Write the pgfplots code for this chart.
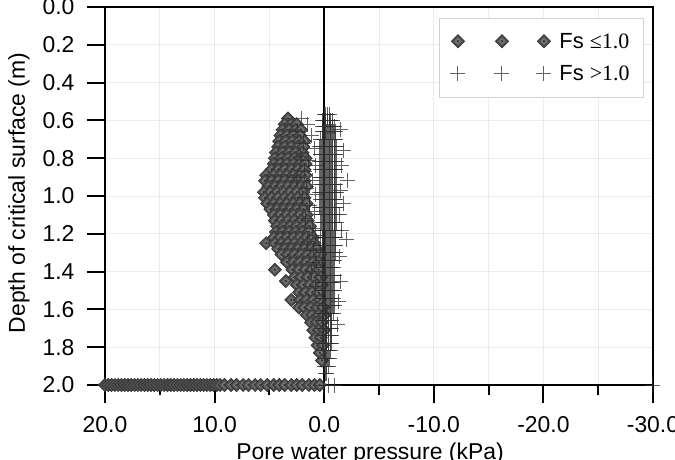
\documentclass[border=0pt]{standalone}
\usepackage{pgfplots}
\pgfplotsset{compat=1.18}
\usepackage{fontspec}
\setmainfont{Liberation Sans}
\newfontfamily\tms{Liberation Serif}

\definecolor{gridgray}{HTML}{EBEBEB}
\definecolor{legendgray}{HTML}{D2D2D2}
\definecolor{diaedge}{HTML}{363636}
\definecolor{diafill}{HTML}{505050}
\definecolor{diainner}{HTML}{747474}
\definecolor{crossgray}{HTML}{2E2E2E}

% diamond with a lighter inner diamond and a dark centre dot
\pgfdeclareplotmark{dotdiamond}{%
  \pgfsetfillcolor{diafill}\pgfsetstrokecolor{diaedge}%
  \pgfpathmoveto{\pgfqpoint{0pt}{\pgfplotmarksize}}%
  \pgfpathlineto{\pgfqpoint{\pgfplotmarksize}{0pt}}%
  \pgfpathlineto{\pgfqpoint{0pt}{-\pgfplotmarksize}}%
  \pgfpathlineto{\pgfqpoint{-\pgfplotmarksize}{0pt}}%
  \pgfpathclose
  \pgfusepathqfillstroke
  \pgfsetfillcolor{diainner}%
  \pgfpathmoveto{\pgfqpoint{0pt}{0.55\pgfplotmarksize}}%
  \pgfpathlineto{\pgfqpoint{0.55\pgfplotmarksize}{0pt}}%
  \pgfpathlineto{\pgfqpoint{0pt}{-0.55\pgfplotmarksize}}%
  \pgfpathlineto{\pgfqpoint{-0.55\pgfplotmarksize}{0pt}}%
  \pgfpathclose
  \pgfusepathqfill
  \pgfsetfillcolor{diaedge}%
  \pgfpathcircle{\pgfpointorigin}{0.22\pgfplotmarksize}%
  \pgfusepathqfill
}

\begin{document}
\begin{tikzpicture}
\begin{axis}[
  scale only axis, width=548bp, height=378bp,
  xmin=-30, xmax=20, ymin=0, ymax=2,
  x dir=reverse, y dir=reverse,
  clip=false,
  axis line style={line width=1.5bp, black},
  xtick={-30,-20,-10,0,10,20},
  xticklabels={-30.0,-20.0,-10.0,0.0,10.0,20.0},
  minor xtick={-25,-15,-5,5,15},
  ytick={0,0.2,0.4,0.6,0.8,1.0,1.2,1.4,1.6,1.8,2.0},
  yticklabels={0.0,0.2,0.4,0.6,0.8,1.0,1.2,1.4,1.6,1.8,2.0},
  xtick pos=left, ytick pos=left,
  tick align=outside,
  major tick length=18bp, minor tick length=10bp,
  every tick/.style={black, line width=2bp},
  xmajorgrids, xminorgrids, ymajorgrids,
  major grid style={gridgray, line width=0.7bp},
  minor grid style={gridgray, line width=0.7bp},
  tick label style={font=\fontsize{23}{26}\selectfont},
  xticklabel style={yshift=-10bp},
  yticklabel style={xshift=-9bp},
  xlabel style={at={(axis description cs:0.4836,-0.198)}, anchor=base,
    font=\fontsize{23}{26}\selectfont},
  ylabel style={at={(axis description cs:-0.157,0.508)}, anchor=center, rotate=0,
    font=\fontsize{23}{26}\selectfont},
  xlabel={Pore water pressure (kPa)},
  ylabel={Depth of critical surface (m)},
  legend style={at={(0.982,0.971)}, anchor=north east, outer sep=0pt,
    draw=legendgray, line width=0.6bp,
    font=\fontsize{22}{25}\selectfont,
    inner xsep=11.5bp, inner ysep=13bp,
    cells={anchor=west}, row sep=12bp, column sep=6bp},
  legend image code/.code={%
    \draw[mark repeat=1,mark phase=1,#1] plot coordinates {(0bp,0bp) (44bp,0bp) (86bp,0bp)};},
]

% factor of safety at or below 1.0
\addplot[only marks, mark=dotdiamond, mark size=6.5bp, mark options={line width=0.8bp}]
coordinates {
(3.3,0.59)
(3.6,0.62)(3.0,0.62)(2.5,0.62)
(3.8,0.65)(3.2,0.65)(2.6,0.65)(2.1,0.65)
(4.0,0.68)(3.4,0.68)(2.8,0.68)(2.2,0.68)
(4.1,0.71)(3.5,0.71)(2.9,0.71)(2.3,0.71)(1.8,0.71)
(4.2,0.74)(3.6,0.74)(3.0,0.74)(2.4,0.74)(1.9,0.74)
(4.4,0.77)(3.8,0.77)(3.2,0.77)(2.6,0.77)(2.0,0.77)
(4.5,0.80)(3.9,0.80)(3.3,0.80)(2.7,0.80)(2.1,0.80)(1.7,0.80)
(4.6,0.83)(4.0,0.83)(3.4,0.83)(2.8,0.83)(2.2,0.83)(1.7,0.83)
(4.8,0.86)(4.2,0.86)(3.6,0.86)(3.0,0.86)(2.4,0.86)(1.8,0.86)
(5.3,0.89)(4.6,0.89)(4.0,0.89)(3.4,0.89)(2.8,0.89)(2.2,0.89)(1.7,0.89)
(5.4,0.92)(4.8,0.92)(4.2,0.92)(3.6,0.92)(3.0,0.92)(2.4,0.92)(1.8,0.92)
(5.1,0.95)(4.5,0.95)(3.9,0.95)(3.3,0.95)(2.7,0.95)(2.1,0.95)(1.6,0.95)
(5.5,0.98)(4.9,0.98)(4.3,0.98)(3.7,0.98)(3.1,0.98)(2.5,0.98)(1.9,0.98)
(5.4,1.01)(4.8,1.01)(4.2,1.01)(3.6,1.01)(3.0,1.01)(2.4,1.01)(1.8,1.01)
(5.2,1.04)(4.6,1.04)(4.0,1.04)(3.4,1.04)(2.8,1.04)(2.2,1.04)(1.6,1.04)
(4.9,1.07)(4.3,1.07)(3.7,1.07)(3.1,1.07)(2.5,1.07)(1.9,1.07)
(4.6,1.10)(4.0,1.10)(3.4,1.10)(2.8,1.10)(2.2,1.10)(1.6,1.10)
(4.5,1.13)(3.9,1.13)(3.3,1.13)(2.7,1.13)(2.1,1.13)(1.5,1.13)
(4.3,1.16)(3.7,1.16)(3.1,1.16)(2.5,1.16)(1.9,1.16)(1.3,1.16)
(4.4,1.19)(3.8,1.19)(3.2,1.19)(2.6,1.19)(2.0,1.19)(1.4,1.19)
(4.6,1.22)(4.0,1.22)(3.4,1.22)(2.8,1.22)(2.2,1.22)(1.6,1.22)(1.0,1.22)
(5.3,1.25)(4.5,1.25)(3.9,1.25)(3.3,1.25)(2.7,1.25)(2.1,1.25)(1.5,1.25)(0.9,1.25)
(4.2,1.28)(3.6,1.28)(3.0,1.28)(2.4,1.28)(1.8,1.28)(1.2,1.28)(0.7,1.28)
(3.9,1.31)(3.3,1.31)(2.7,1.31)(2.1,1.31)(1.5,1.31)(0.9,1.31)(0.4,1.31)
(3.4,1.35)(2.8,1.35)(2.2,1.35)(1.6,1.35)(1.0,1.35)(0.5,1.35)
(4.5,1.39)(2.9,1.39)(2.3,1.39)(1.7,1.39)(1.1,1.39)(0.5,1.39)
(2.7,1.43)(2.1,1.43)(1.5,1.43)(0.9,1.43)(0.3,1.43)
(3.5,1.45)
(2.5,1.47)(1.9,1.47)(1.3,1.47)(0.7,1.47)(0.2,1.47)
(2.3,1.51)(1.7,1.51)(1.1,1.51)(0.5,1.51)
(3.0,1.55)(2.2,1.55)(1.6,1.55)(1.0,1.55)(0.4,1.55)
(2.3,1.59)(1.8,1.59)(1.2,1.59)(0.6,1.59)(0.1,1.59)
(1.6,1.63)(1.1,1.63)(0.5,1.63)(0.0,1.63)
(1.2,1.67)(0.7,1.67)(0.2,1.67)
(1.0,1.71)(0.5,1.71)(0.0,1.71)
(0.8,1.75)(0.3,1.75)
(0.6,1.79)(0.1,1.79)
(0.4,1.83)(0.2,1.87)
(20.0,2.0)(19.7,2.0)(19.4,2.0)(19.1,2.0)(18.8,2.0)(18.5,2.0)(18.2,2.0)
(17.9,2.0)(17.6,2.0)(17.3,2.0)(17.0,2.0)(16.7,2.0)(16.4,2.0)(16.1,2.0)
(15.8,2.0)(15.5,2.0)(15.2,2.0)(14.9,2.0)(14.6,2.0)(14.3,2.0)(14.0,2.0)
(13.7,2.0)(13.4,2.0)(13.1,2.0)(12.8,2.0)(12.5,2.0)(12.2,2.0)(11.9,2.0)
(11.6,2.0)(11.3,2.0)(11.0,2.0)(10.7,2.0)(10.4,2.0)(10.1,2.0)(9.8,2.0)
(9.5,2.0)(9.1,2.0)(8.5,2.0)(8.0,2.0)(7.4,2.0)(6.9,2.0)(6.3,2.0)(5.8,2.0)
(5.2,2.0)(4.6,2.0)(4.1,2.0)(3.6,2.0)(3.0,2.0)(2.5,2.0)(2.0,2.0)(1.4,2.0)
(0.9,2.0)(0.4,2.0)
};
\addlegendentry{Fs {\tms ≤1.0}}

% factor of safety above 1.0
\addplot[only marks, mark=+, mark size=7.5bp,
  mark options={draw=crossgray, draw opacity=0.75, line width=1bp}]
coordinates {
(-0.45,0.57)(-0.3,0.57)(-0.15,0.57)(0.0,0.57)
(-0.75,0.60)(-0.6,0.60)(-0.45,0.60)(-0.3,0.60)(-0.15,0.60)(0.0,0.60)(0.15,0.60)
(-0.9,0.63)(-0.75,0.63)(-0.6,0.63)(-0.45,0.63)(-0.3,0.63)(-0.15,0.63)(0.0,0.63)(0.15,0.63)
(-1.0,0.66)(-0.85,0.66)(-0.7,0.66)(-0.55,0.66)(-0.4,0.66)(-0.25,0.66)(-0.1,0.66)(0.05,0.66)(0.2,0.66)
(-1.05,0.70)(-0.9,0.70)(-0.75,0.70)(-0.6,0.70)(-0.45,0.70)(-0.3,0.70)(-0.15,0.70)(0.0,0.70)(0.15,0.70)(0.3,0.70)
(-1.1,0.74)(-0.95,0.74)(-0.8,0.74)(-0.65,0.74)(-0.5,0.74)(-0.35,0.74)(-0.2,0.74)(-0.05,0.74)(0.1,0.74)(0.25,0.74)(0.4,0.74)
(-1.05,0.78)(-0.9,0.78)(-0.75,0.78)(-0.6,0.78)(-0.45,0.78)(-0.3,0.78)(-0.15,0.78)(0.0,0.78)(0.15,0.78)(0.3,0.78)
(-1.1,0.82)(-0.95,0.82)(-0.8,0.82)(-0.65,0.82)(-0.5,0.82)(-0.35,0.82)(-0.2,0.82)(-0.05,0.82)(0.1,0.82)(0.25,0.82)(0.4,0.82)
(-1.05,0.86)(-0.9,0.86)(-0.75,0.86)(-0.6,0.86)(-0.45,0.86)(-0.3,0.86)(-0.15,0.86)(0.0,0.86)(0.15,0.86)(0.3,0.86)
(-1.1,0.90)(-0.95,0.90)(-0.8,0.90)(-0.65,0.90)(-0.5,0.90)(-0.35,0.90)(-0.2,0.90)(-0.05,0.90)(0.1,0.90)(0.25,0.90)(0.4,0.90)
(-1.05,0.94)(-0.9,0.94)(-0.75,0.94)(-0.6,0.94)(-0.45,0.94)(-0.3,0.94)(-0.15,0.94)(0.0,0.94)(0.15,0.94)(0.3,0.94)
(-1.1,0.98)(-0.95,0.98)(-0.8,0.98)(-0.65,0.98)(-0.5,0.98)(-0.35,0.98)(-0.2,0.98)(-0.05,0.98)(0.1,0.98)(0.25,0.98)(0.4,0.98)
(-1.05,1.02)(-0.9,1.02)(-0.75,1.02)(-0.6,1.02)(-0.45,1.02)(-0.3,1.02)(-0.15,1.02)(0.0,1.02)(0.15,1.02)(0.3,1.02)
(-1.1,1.06)(-0.95,1.06)(-0.8,1.06)(-0.65,1.06)(-0.5,1.06)(-0.35,1.06)(-0.2,1.06)(-0.05,1.06)(0.1,1.06)(0.25,1.06)(0.4,1.06)
(-1.05,1.10)(-0.9,1.10)(-0.75,1.10)(-0.6,1.10)(-0.45,1.10)(-0.3,1.10)(-0.15,1.10)(0.0,1.10)(0.15,1.10)(0.3,1.10)
(-1.1,1.14)(-0.95,1.14)(-0.8,1.14)(-0.65,1.14)(-0.5,1.14)(-0.35,1.14)(-0.2,1.14)(-0.05,1.14)(0.1,1.14)(0.25,1.14)
(-1.05,1.18)(-0.9,1.18)(-0.75,1.18)(-0.6,1.18)(-0.45,1.18)(-0.3,1.18)(-0.15,1.18)(0.0,1.18)(0.15,1.18)(0.3,1.18)
(-1.0,1.22)(-0.85,1.22)(-0.7,1.22)(-0.55,1.22)(-0.4,1.22)(-0.25,1.22)(-0.1,1.22)(0.05,1.22)(0.2,1.22)
(-1.05,1.26)(-0.9,1.26)(-0.75,1.26)(-0.6,1.26)(-0.45,1.26)(-0.3,1.26)(-0.15,1.26)(0.0,1.26)(0.15,1.26)(0.3,1.26)
(-1.0,1.30)(-0.85,1.30)(-0.7,1.30)(-0.55,1.30)(-0.4,1.30)(-0.25,1.30)(-0.1,1.30)(0.05,1.30)(0.2,1.30)
(-0.9,1.34)(-0.75,1.34)(-0.6,1.34)(-0.45,1.34)(-0.3,1.34)(-0.15,1.34)(0.0,1.34)(0.15,1.34)
(-0.85,1.38)(-0.7,1.38)(-0.55,1.38)(-0.4,1.38)(-0.25,1.38)(-0.1,1.38)(0.05,1.38)(0.2,1.38)
(-0.9,1.42)(-0.75,1.42)(-0.6,1.42)(-0.45,1.42)(-0.3,1.42)(-0.15,1.42)(0.0,1.42)(0.15,1.42)
(-0.85,1.46)(-0.7,1.46)(-0.55,1.46)(-0.4,1.46)(-0.25,1.46)(-0.1,1.46)(0.05,1.46)(0.2,1.46)
(-0.9,1.50)(-0.75,1.50)(-0.6,1.50)(-0.45,1.50)(-0.3,1.50)(-0.15,1.50)(0.0,1.50)(0.15,1.50)
(-0.85,1.54)(-0.7,1.54)(-0.55,1.54)(-0.4,1.54)(-0.25,1.54)(-0.1,1.54)(0.05,1.54)(0.2,1.54)
(-0.9,1.58)(-0.75,1.58)(-0.6,1.58)(-0.45,1.58)(-0.3,1.58)(-0.15,1.58)(0.0,1.58)(0.15,1.58)
(-0.85,1.62)(-0.7,1.62)(-0.55,1.62)(-0.4,1.62)(-0.25,1.62)(-0.1,1.62)(0.05,1.62)(0.2,1.62)
(-0.7,1.66)(-0.55,1.66)(-0.4,1.66)(-0.25,1.66)(-0.1,1.66)(0.05,1.66)(0.2,1.66)
(-0.7,1.70)(-0.55,1.70)(-0.4,1.70)(-0.25,1.70)(-0.1,1.70)(0.05,1.70)(0.2,1.70)
(-0.7,1.74)(-0.55,1.74)(-0.4,1.74)(-0.25,1.74)(-0.1,1.74)(0.05,1.74)(0.2,1.74)
(-0.7,1.78)(-0.55,1.78)(-0.4,1.78)(-0.25,1.78)(-0.1,1.78)(0.05,1.78)(0.2,1.78)
(-0.55,1.82)(-0.4,1.82)(-0.25,1.82)(-0.1,1.82)(0.05,1.82)
(-0.45,1.86)(-0.3,1.86)(-0.15,1.86)(0.0,1.86)
(-0.35,1.90)(-0.2,1.90)(-0.05,1.90)
(-0.25,1.94)(-0.1,1.94)
(0.1,2.0)(-0.4,2.0)(-0.9,2.0)(-30,2.0)
(2.1,0.59)(1.5,0.62)(2.4,0.66)(1.2,0.68)(1.9,0.72)(0.9,0.75)(2.2,0.79)
(1.4,0.81)(0.8,0.84)(1.8,0.87)(2.5,0.90)(1.1,0.92)(1.6,0.96)(0.8,0.99)
(2.0,1.01)(1.3,1.05)(0.9,1.08)(1.7,1.12)(1.1,1.17)(0.8,1.21)(1.5,1.24)
(1.0,1.29)(0.7,1.35)(1.2,1.40)(0.8,1.48)
(-1.5,0.65)(-1.8,0.76)(-1.6,0.84)(-2.1,0.92)(-1.5,0.97)(-1.8,1.04)
(-1.4,1.10)(-1.6,1.18)(-2.0,1.23)(-1.4,1.32)(-1.5,1.45)(-1.3,1.56)(-1.2,1.68)
};
\addlegendentry{Fs {\tms >1.0}}

% zero pore-pressure line
\addplot[black, line width=1.5bp, forget plot] coordinates {(0,0) (0,2)};
\end{axis}
\pgfresetboundingbox
\useasboundingbox (-105bp,-75bp) rectangle (570bp,385bp);
\end{tikzpicture}
\end{document}
